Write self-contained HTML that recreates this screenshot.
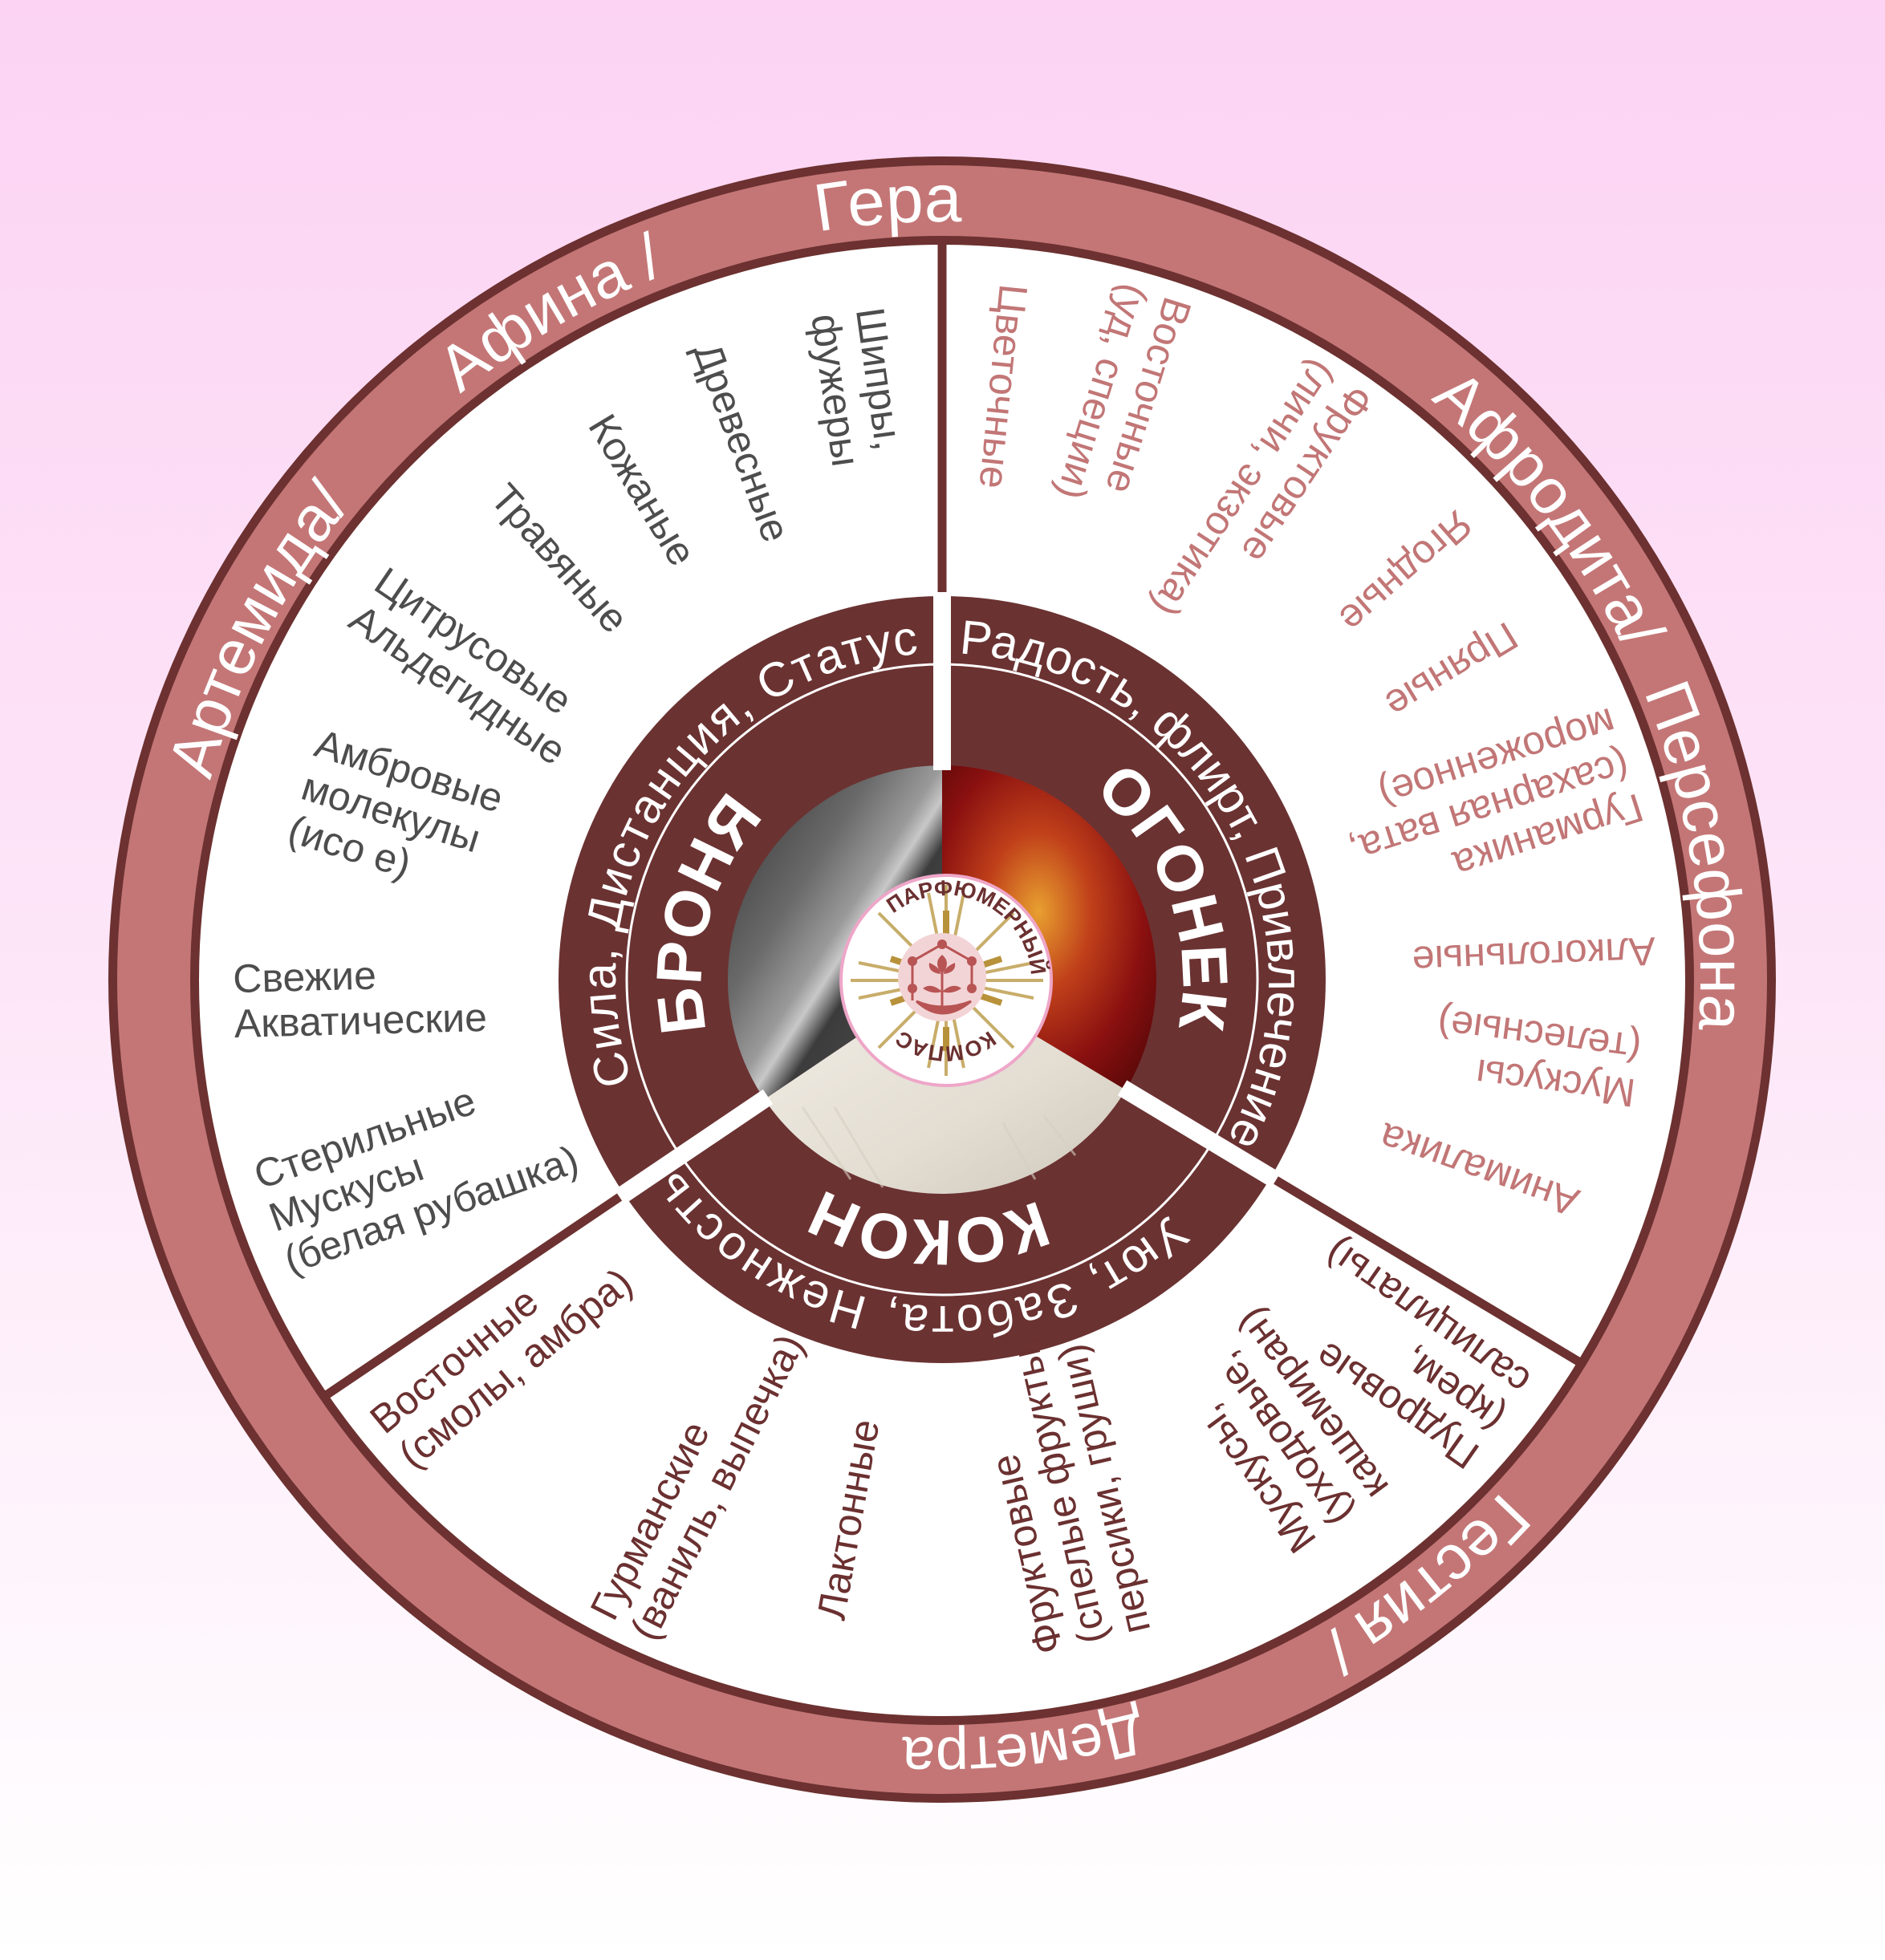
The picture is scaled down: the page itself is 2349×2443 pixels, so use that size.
<!DOCTYPE html>
<html><head><meta charset="utf-8"><style>
html,body{margin:0;padding:0;width:2349px;height:2443px;overflow:hidden}
svg{display:block}
text{font-family:"Liberation Sans","DejaVu Sans",sans-serif}
.g text{fill:#4d4d4d;font-size:50px}
.p text{fill:#c27676;font-size:50px}
.d text{fill:#6b3030;font-size:50px}
</style></head><body>
<svg width="2349" height="2443" viewBox="0 0 2349 2443" xmlns="http://www.w3.org/2000/svg">
<defs>
<linearGradient id="bg" x1="0" y1="0" x2="0" y2="1">
<stop offset="0" stop-color="#fcd3f3"/><stop offset="0.5" stop-color="#fde6f8"/><stop offset="1" stop-color="#ffffff"/>
</linearGradient>
<linearGradient id="wood" x1="0" y1="0" x2="1" y2="1">
<stop offset="0" stop-color="#2e2e2e"/><stop offset="0.35" stop-color="#6a6a6a"/><stop offset="0.5" stop-color="#9a9a9a"/><stop offset="0.55" stop-color="#c8c8c8"/><stop offset="0.62" stop-color="#3c3c3c"/><stop offset="1" stop-color="#555"/>
</linearGradient>
<radialGradient id="fire" cx="0.45" cy="0.45" r="0.7">
<stop offset="0" stop-color="#e8a030"/><stop offset="0.35" stop-color="#c0401a"/><stop offset="0.7" stop-color="#8a1010"/><stop offset="1" stop-color="#5a0808"/>
</radialGradient>
<linearGradient id="knit" x1="0" y1="0" x2="1" y2="1">
<stop offset="0" stop-color="#f2eee6"/><stop offset="0.6" stop-color="#e3ddd2"/><stop offset="1" stop-color="#cfc8bb"/>
</linearGradient>
<path id="c945" d="M1174,2166 A945,945 0 1 1 1174,276 A945,945 0 1 1 1174,2166 A945,945 0 1 1 1174,276 A945,945 0 1 1 1174,2166"/>
<path id="c407" d="M1174,1628 A407,407 0 1 1 1174,814 A407,407 0 1 1 1174,1628 A407,407 0 1 1 1174,814 A407,407 0 1 1 1174,1628"/>
<path id="c300" d="M1174,1521 A300,300 0 1 1 1174,921 A300,300 0 1 1 1174,1521 A300,300 0 1 1 1174,921 A300,300 0 1 1 1174,1521"/>
<path id="l106" d="M1179,1328 A106,106 0 1 1 1179,1116 A106,106 0 1 1 1179,1328 A106,106 0 1 1 1179,1116 A106,106 0 1 1 1179,1328"/>
<path id="l82" d="M1179,1304 A82,82 0 1 1 1179,1140 A82,82 0 1 1 1179,1304 A82,82 0 1 1 1179,1140 A82,82 0 1 1 1179,1304"/>
</defs>
<rect width="2349" height="2443" fill="url(#bg)"/>
<ellipse cx="1174" cy="1221" rx="1039" ry="1026" fill="#6c3130"/>
<ellipse cx="1174" cy="1221" rx="1028" ry="1015" fill="#c47676"/>
<ellipse cx="1174" cy="1222" rx="937" ry="928" fill="#6c3130"/>
<ellipse cx="1174" cy="1222" rx="926" ry="917" fill="#ffffff"/>
<g stroke="#6c3130" stroke-width="11">
<line x1="1174" y1="750" x2="1174" y2="300"/>
<line x1="1580" y1="1465" x2="1972" y2="1700"/>
<line x1="778" y1="1488" x2="402" y2="1742"/>
</g>
<circle cx="1174" cy="1221" r="478" fill="#6b3232"/>
<circle cx="1174" cy="1221" r="393" fill="none" stroke="#fff" stroke-width="3"/>
<path d="M1174,1221 L952.6,1370.3 A267,267 0 0 1 1174,954 Z" fill="url(#wood)"/>
<path d="M1174,1221 L1174,954 A267,267 0 0 1 1402.8,1358.5 Z" fill="url(#fire)"/>
<path d="M1174,1221 L1402.8,1358.5 A267,267 0 0 1 952.6,1370.3 Z" fill="url(#knit)"/>
<g stroke="#d6cfc3" stroke-width="3" opacity="0.6">
<line x1="1000" y1="1380" x2="1060" y2="1470"/><line x1="1040" y1="1380" x2="1100" y2="1480"/><line x1="1250" y1="1400" x2="1290" y2="1470"/><line x1="1300" y1="1390" x2="1340" y2="1440"/>
</g>
<g stroke="#ffffff" stroke-width="22">
<line x1="1174" y1="960" x2="1174" y2="738"/>
<line x1="1398.6" y1="1355.9" x2="1590" y2="1471"/>
<line x1="957" y1="1367" x2="772" y2="1492"/>
</g>
<circle cx="1179" cy="1222" r="131" fill="#fff" stroke="#eea6c8" stroke-width="4"/>
<g stroke="#c8ad6a" stroke-width="4">
<line x1="1060" y1="1222" x2="1300" y2="1222"/>
<line x1="1179" y1="1103" x2="1179" y2="1341"/>
<line x1="1095" y1="1138" x2="1263" y2="1306"/>
<line x1="1263" y1="1138" x2="1095" y2="1306"/>
<line x1="1070" y1="1200" x2="1288" y2="1244"/>
<line x1="1070" y1="1244" x2="1288" y2="1200"/>
<line x1="1157" y1="1113" x2="1201" y2="1331"/>
<line x1="1201" y1="1113" x2="1157" y2="1331"/>
</g>
<g stroke="#b8923a" stroke-width="8">
<line x1="1179" y1="1135" x2="1179" y2="1165"/><line x1="1179" y1="1280" x2="1179" y2="1310"/>
<line x1="1110" y1="1195" x2="1140" y2="1205"/><line x1="1218" y1="1205" x2="1248" y2="1195"/>
<line x1="1110" y1="1250" x2="1140" y2="1240"/><line x1="1218" y1="1240" x2="1248" y2="1250"/>
</g>
<circle cx="1174" cy="1218" r="55" fill="#f3d4d6"/>
<g fill="none" stroke="#b85454" stroke-width="3">
<polyline points="1137,1247 1137,1198 1174,1177 1211,1198 1211,1232"/>
<path d="M1142,1248 Q1174,1278 1210,1248 Q1174,1262 1142,1248 Z" fill="#b85454"/>
<line x1="1174" y1="1210" x2="1174" y2="1255"/>
</g>
<g fill="#b85454">
<circle cx="1137" cy="1198" r="6"/><circle cx="1174" cy="1177" r="6"/><circle cx="1211" cy="1198" r="6"/><circle cx="1211" cy="1232" r="6"/><circle cx="1137" cy="1232" r="6"/>
<path d="M1174,1190 Q1186,1200 1174,1214 Q1162,1200 1174,1190 Z"/>
<path d="M1158,1200 Q1172,1206 1172,1214 Q1156,1212 1158,1200 Z"/>
<path d="M1190,1200 Q1176,1206 1176,1214 Q1192,1212 1190,1200 Z"/>
<path d="M1174,1236 Q1160,1224 1150,1232 Q1162,1240 1174,1236 Z"/>
<path d="M1174,1236 Q1188,1224 1198,1232 Q1186,1240 1174,1236 Z"/>
</g>
<text font-size="27" font-weight="bold" fill="#6b3030"><textPath href="#l106" startOffset="377" text-anchor="middle">ПАРФЮМЕРНЫЙ</textPath></text>
<text font-size="27" font-weight="bold" fill="#6b3030"><textPath href="#l82" startOffset="515" text-anchor="middle">КОМПАС</textPath></text>
<g font-size="80" fill="#ffffff">
<text font-size="84"><textPath href="#c945" startOffset="2903" text-anchor="middle">Гера</textPath></text>
<text><textPath href="#c945" startOffset="2467" text-anchor="middle">Афина /</textPath></text>
<text><textPath href="#c945" startOffset="1930" text-anchor="middle">Артемида/</textPath></text>
<text><textPath href="#c945" startOffset="3830" text-anchor="middle">Афродита/</textPath></text>
<text><textPath href="#c945" startOffset="4300" text-anchor="middle">Персефона</textPath></text>
<text><textPath href="#c945" startOffset="5298" text-anchor="middle">Гестия /</textPath></text>
<text font-size="74"><textPath href="#c945" startOffset="5838" text-anchor="middle">Деметра</textPath></text>
</g>
<g font-size="60" fill="#ffffff">
<text><textPath href="#c407" startOffset="879" text-anchor="middle" textLength="740" lengthAdjust="spacing">Сила, Дистанция, Статус</textPath></text>
<text><textPath href="#c407" startOffset="1712" text-anchor="middle" textLength="826" lengthAdjust="spacing">Радость, флирт, Привлечение</textPath></text>
<text><textPath href="#c407" startOffset="2593" text-anchor="middle" textLength="700" lengthAdjust="spacing">Уют, Забота, Нежность</textPath></text>
</g>
<g font-size="80" font-weight="bold" fill="#ffffff">
<text><textPath href="#c300" startOffset="550" text-anchor="middle">БРОНЯ</textPath></text>
<text><textPath href="#c300" startOffset="1309" text-anchor="middle">ОГОНЕК</textPath></text>
<text><textPath href="#c300" startOffset="1900" text-anchor="middle">КОКОН</textPath></text>
</g>
<g class="g">
<g transform="translate(1067,467) rotate(82)"><text x="-80" y="-11">Шипры,</text><text x="-80" y="45">фужеры</text></g>
<g transform="translate(921,542) rotate(69.8)"><text x="-120" y="17">Древесные</text></g>
<g transform="translate(794,600) rotate(58.9)"><text x="-92" y="17">Кожаные</text></g>
<g transform="translate(692,690) rotate(48.2)"><text x="-106" y="17">Травяные</text></g>
<g transform="translate(577,824) rotate(34.2)"><text x="-145" y="-11">Цитрусовые</text><text x="-145" y="45">Альдегидные</text></g>
<g transform="translate(479,1010) rotate(17.3)"><text x="-106" y="-39">Амбровые</text><text x="-106" y="17">молекулы</text><text x="-106" y="73">(исо е)</text></g>
<g transform="translate(449,1244) rotate(-1.5)"><text x="-158" y="-11">Свежие</text><text x="-158" y="45">Акватические</text></g>
<g transform="translate(524,1453) rotate(-19.6)"><text x="-198" y="-39">Стерильные</text><text x="-198" y="17">Мускусы</text><text x="-198" y="73">(белая рубашка)</text></g>
</g>
<g class="p">
<g transform="translate(1251,474) rotate(95.8)"><text x="-120" y="17">Цветочные</text></g>
<g transform="translate(1395,515) rotate(107.3)"><text x="-158" y="-11">Восточные</text><text x="-158" y="45">(уд, специи)</text></g>
<g transform="translate(1560,645) rotate(123.6)"><text x="-210" y="-11">Фруктовые</text><text x="-210" y="45">(личи, экзотика)</text></g>
<g transform="translate(1758,707) rotate(138.6)"><text x="-92" y="17">Ягодные</text></g>
<g transform="translate(1818,830) rotate(148.7)"><text x="-80" y="17">Пряные</text></g>
<g transform="translate(1840,1012) rotate(162.2)"><text x="-198" y="-39">Гурманика</text><text x="-198" y="17">(сахарная вата,</text><text x="-198" y="73">мороженное)</text></g>
<g transform="translate(1918,1191) rotate(177.7)"><text x="-145" y="17">Алкогольные</text></g>
<g transform="translate(1910,1318) rotate(187.4)"><text x="-132" y="-11">Мускусы</text><text x="-132" y="45">(телесные)</text></g>
<g transform="translate(1852,1461) rotate(199.3)"><text x="-120" y="17">Анималика</text></g>
</g>
<g class="d">
<g transform="translate(1750,1690) rotate(215)"><text x="-145" y="-39">Пудровые</text><text x="-145" y="17">(крем,</text><text x="-145" y="73">салицилаты)</text></g>
<g transform="translate(1595,1790) rotate(233.6)"><text x="-132" y="-39">Мускусы,</text><text x="-132" y="17">(уходовые,</text><text x="-132" y="73">кашемиран)</text></g>
<g transform="translate(1318,1855) rotate(257)"><text x="-198" y="-39">Фруктовые</text><text x="-198" y="17">(спелые фрукты,</text><text x="-198" y="73">персики, груши)</text></g>
<g transform="translate(1056,1900) rotate(280)"><text x="-120" y="17">Лактонные</text></g>
<g transform="translate(869,1840) rotate(296.7)"><text x="-210" y="-11">Гурманские</text><text x="-210" y="45">(ваниль, выпечка)</text></g>
<g transform="translate(629,1680) rotate(320.5)"><text x="-185" y="-11">Восточные</text><text x="-185" y="45">(смолы, амбра)</text></g>
</g>
</svg>
</body></html>
